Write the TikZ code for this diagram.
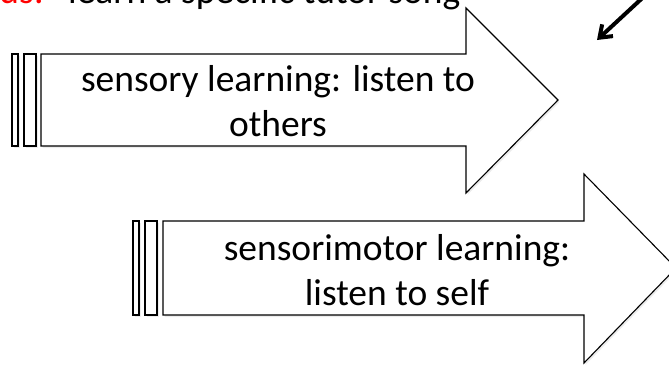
\documentclass[tikz,border=0pt]{standalone}
\usepackage{fontspec}
\setmainfont{Carlito}
\usetikzlibrary{arrows.meta,shadows}

\begin{document}
\begin{tikzpicture}[x=1pt,y=-1pt,
  blockarrow/.style={draw,line width=1.1pt,fill=white,line join=miter,
    drop shadow={opacity=0.15,shadow xshift=1.5pt,shadow yshift=-2pt}},
  stripe/.style={blockarrow},
  txt/.style={font=\fontsize{37.5}{45}\selectfont,align=center,inner sep=0pt},
  headtxt/.style={font=\fontsize{37.5}{45}\selectfont,inner sep=0pt}]
\useasboundingbox (0,0) rectangle (669,364);
\clip (0,0) rectangle (669,364);

% heading, cut at the top edge
\node[headtxt,anchor=base east,text=red] (birds) at (44,3) {Birds:};
\node[headtxt,anchor=base west] (heading) at (68,3) {learn a specific tutor song};

% first arrow
\draw[stripe] (12,54) rectangle (18,146);
\draw[stripe] (24,54) rectangle (36,146);
\draw[blockarrow] (41,54) -- (466,54) -- (466,8) -- (558,100) -- (466,193)
  -- (466,146) -- (41,146) -- cycle;
\node[txt] (sensory) at (278,101) {sensory learning: listen to\\others};

% second arrow
\draw[stripe] (133,221) rectangle (139,315);
\draw[stripe] (145,221) rectangle (157,315);
\draw[blockarrow] (163,221) -- (584,221) -- (584,174) -- (676,268) -- (584,363)
  -- (584,315) -- (163,315) -- cycle;
\node[txt] (motor) at (397,270) {sensorimotor learning:\\listen to self};

% pointer from above
\coordinate (from) at (651,-10);
\coordinate (to) at (597,40);
\draw[line width=4pt,-{Straight Barb[length=11pt,width=16pt]}] (from) -- (to);
\end{tikzpicture}
\end{document}
